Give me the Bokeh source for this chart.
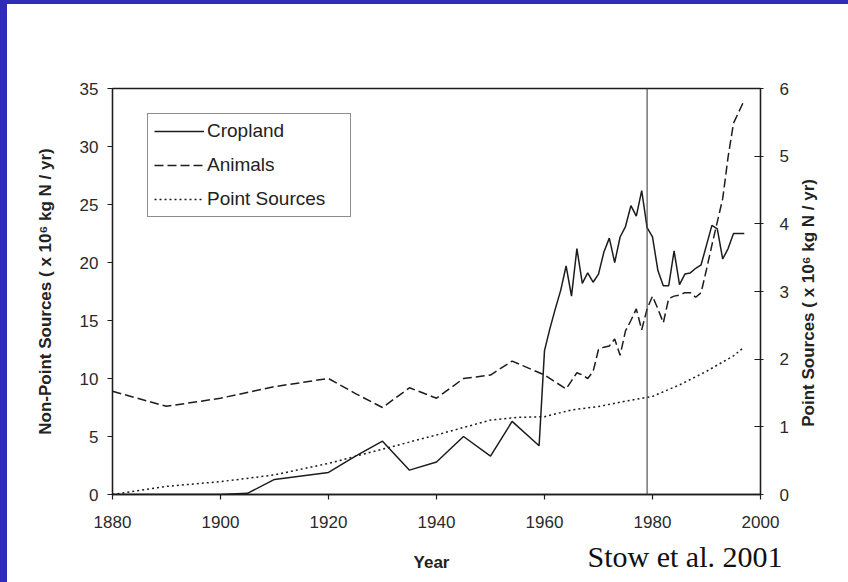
import math
from bokeh.plotting import figure
from bokeh.layouts import column, row
from bokeh.models import (Range1d, LinearAxis, Span, Label, Legend, LegendItem,
                          FixedTicker, GlobalInlineStyleSheet)
from bokeh.embed import file_html
from bokeh.resources import INLINE

# ---------------- data ----------------
title_text = "Neuse River nutrients"
credit_text = "Stow et al. 2001"
x_label = "Year"
left_label = "Non-Point Sources ( x 10\u2076 kg N / yr)"
right_label = "Point Sources ( x 10\u2076 kg N / yr)"

x_ticks = [1880, 1900, 1920, 1940, 1960, 1980, 2000]
left_ticks = [0, 5, 10, 15, 20, 25, 30, 35]
right_ticks = [0, 1, 2, 3, 4, 5, 6]
marker_year = 1979

crop_years = [1880, 1890, 1900, 1905, 1910, 1920, 1925, 1930, 1935, 1940, 1945, 1950,
              1954, 1959, 1960, 1961, 1962, 1963, 1964, 1965, 1966, 1967, 1968, 1969,
              1970, 1971, 1972, 1973, 1974, 1975, 1976, 1977, 1978, 1979, 1980, 1981,
              1982, 1983, 1984, 1985, 1986, 1987, 1988, 1989, 1990, 1991, 1992, 1993,
              1994, 1995, 1996, 1997]
crop_vals = [0.0, 0.0, 0.0, 0.1, 1.3, 1.9, 3.3, 4.6, 2.1, 2.8, 5.0, 3.3,
             6.3, 4.2, 12.4, 14.3, 16.0, 17.6, 19.7, 17.1, 21.2, 18.2, 19.1, 18.3,
             19.0, 20.9, 22.1, 20.0, 22.2, 23.1, 24.9, 24.0, 26.2, 23.0, 22.2, 19.3,
             18.0, 18.0, 21.0, 18.1, 19.0, 19.1, 19.5, 19.8, 21.5, 23.2, 22.9, 20.3,
             21.2, 22.5, 22.5, 22.5]

anim_years = [1880, 1890, 1900, 1910, 1920, 1925, 1930, 1935, 1940, 1945, 1950, 1954,
              1960, 1964, 1965, 1966, 1967, 1968, 1969, 1970, 1971, 1972, 1973, 1974,
              1975, 1976, 1977, 1978, 1979, 1980, 1981, 1982, 1983, 1984, 1985, 1986,
              1987, 1988, 1989, 1990, 1991, 1992, 1993, 1994, 1995, 1996, 1997]
anim_vals = [8.9, 7.6, 8.3, 9.3, 10.0, 8.7, 7.5, 9.2, 8.3, 10.0, 10.3, 11.5,
             10.3, 9.1, 9.8, 10.5, 10.3, 10.0, 10.6, 12.5, 12.7, 12.8, 13.4, 12.0,
             14.1, 15.0, 16.0, 14.2, 16.0, 17.1, 16.0, 14.8, 16.9, 17.1, 17.2, 17.4,
             17.4, 17.0, 17.4, 19.4, 21.5, 23.5, 25.5, 29.1, 32.0, 33.0, 34.0]

ps_years = [1880, 1890, 1900, 1910, 1920, 1930, 1940, 1950, 1955, 1960, 1965, 1970,
            1975, 1980, 1985, 1990, 1995, 1997]
ps_vals = [0.0, 0.12, 0.19, 0.29, 0.46, 0.67, 0.88, 1.10, 1.14, 1.15, 1.25, 1.30,
           1.38, 1.45, 1.62, 1.82, 2.05, 2.18]

# ---------------- styles ----------------
INK = "#1c1c1c"
BLUE = "#2f2db7"
TICK_FONT = "Liberation Sans"
LABEL_FONT = "Liberation Sans"
PAGE_CSS = ("html, body { background-color: #ffffff; margin: 0 !important; "
            "padding: 0 !important; overflow: hidden; } "
            "body { border-left: 7px solid " + BLUE + "; border-top: 4px solid " + BLUE + "; "
            "box-sizing: border-box; }")

TOTAL_W, TOTAL_H = 841, 578
MAIN_W, MAIN_H = 785, 536
SIDE_W = TOTAL_W - MAIN_W
BOTTOM_H = TOTAL_H - MAIN_H

main = figure(width=MAIN_W, height=MAIN_H,
              x_range=Range1d(1880, 2000), y_range=Range1d(0, 35),
              output_backend="svg", toolbar_location=None,
              min_border_left=105, min_border_right=32,
              min_border_top=84, min_border_bottom=46,
              y_axis_label=left_label)
main.stylesheets = [GlobalInlineStyleSheet(css=PAGE_CSS)]
main.background_fill_color = "white"
main.border_fill_color = "white"
main.outline_line_color = INK
main.outline_line_width = 1.3
main.xgrid.visible = False
main.ygrid.visible = False

main.extra_y_ranges = {"ps": Range1d(0, 6)}
rax = LinearAxis(y_range_name="ps")
main.add_layout(rax, "right")


def style_axis(ax, ticks, tick_in, tick_out, standoff, label_standoff):
    ax.ticker = FixedTicker(ticks=ticks)
    ax.minor_tick_line_color = None
    ax.axis_line_color = INK
    ax.axis_line_width = 1.3
    ax.major_tick_line_color = INK
    ax.major_tick_line_width = 1.2
    ax.major_tick_in = tick_in
    ax.major_tick_out = tick_out
    ax.major_label_standoff = standoff
    ax.major_label_text_font = TICK_FONT
    ax.major_label_text_font_size = "17px"
    ax.major_label_text_color = "#2a2a2a"
    ax.axis_label_text_font = LABEL_FONT
    ax.axis_label_text_font_size = "17px"
    ax.axis_label_text_font_style = "bold"
    ax.axis_label_text_color = "#222222"
    ax.axis_label_standoff = label_standoff


style_axis(main.xaxis[0], x_ticks, 0, 5, 16, 22)
style_axis(main.yaxis[0], left_ticks, 0, 5, 9, 22)
style_axis(rax, right_ticks, 6, 3, 16, 16)

# ---------------- series ----------------
r_crop = main.line(crop_years, crop_vals, line_color=INK, line_width=1.5)
r_anim = main.line(anim_years, anim_vals, line_color=INK, line_width=1.5,
                   line_dash="9 4")
r_ps = main.line(ps_years, ps_vals, line_color=INK, line_width=1.5,
                 line_dash="2 3", y_range_name="ps")

main.add_layout(Span(location=marker_year, dimension="height",
                     line_color="#444444", line_width=1.1))

legend = Legend(items=[LegendItem(label="Cropland", renderers=[r_crop]),
                       LegendItem(label="Animals", renderers=[r_anim]),
                       LegendItem(label="Point Sources", renderers=[r_ps])],
                location=(35, 277))
legend.border_line_color = INK
legend.border_line_width = 1.3
legend.background_fill_color = "white"
legend.background_fill_alpha = 1.0
legend.padding = 6
legend.spacing = 12
legend.margin = 0
legend.glyph_width = 50
legend.glyph_height = 20
legend.label_height = 20
legend.label_width = 137
legend.label_standoff = 3
legend.label_text_font = TICK_FONT
legend.label_text_font_size = "19px"
legend.label_text_color = "#222222"
main.add_layout(legend)

main.add_layout(Label(x=315, y=462, x_units="screen", y_units="screen",
                      text=title_text, text_font="DejaVu Serif",
                      text_font_size="17px", text_color="#111111",
                      text_align="center", text_baseline="middle"))


def blank(w, h):
    f = figure(width=w, height=h, x_range=Range1d(0, w), y_range=Range1d(0, h),
               output_backend="svg", toolbar_location=None,
               x_axis_location=None, y_axis_location=None, min_border=0)
    f.outline_line_color = None
    f.background_fill_color = "white"
    f.border_fill_color = "white"
    f.grid.visible = False
    return f


# right strip: title of the point-source axis (reads bottom to top)
side = blank(SIDE_W, MAIN_H)
side.add_layout(Label(x=16, y=253, angle=math.pi / 2, text=right_label,
                      text_font=LABEL_FONT, text_font_size="17px",
                      text_font_style="bold", text_color="#222222",
                      text_align="center", text_baseline="middle"))

# bottom strip: x-axis title and the credit
bottom = blank(TOTAL_W, BOTTOM_H)
bottom.add_layout(Label(x=424, y=20, text=x_label,
                        text_font=LABEL_FONT, text_font_size="17px",
                        text_font_style="bold", text_color="#222222",
                        text_align="center", text_baseline="middle"))
bottom.add_layout(Label(x=580, y=26, text=credit_text,
                        text_font="Liberation Serif", text_font_size="30px",
                        text_color="#111111",
                        text_align="left", text_baseline="middle"))

p = column(row(main, side, spacing=0), bottom, spacing=0)

open("out.html", "w").write(file_html(p, INLINE))
